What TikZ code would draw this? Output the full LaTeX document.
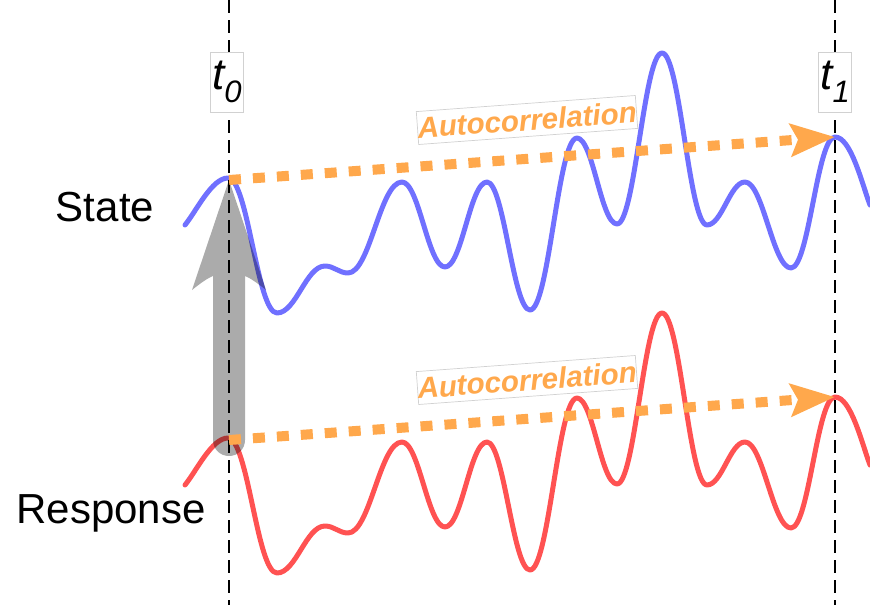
\documentclass[tikz,border=0pt]{standalone}
\usepackage{fontspec}
\setmainfont{Liberation Sans}
\usetikzlibrary{arrows.meta,calc}
\definecolor{acorange}{RGB}{255,168,76}
\newcommand\wavepath{(185,225) .. controls (197,210) and (212,178) .. (228,178)
 .. controls (248,178) and (257,313) .. (277,313)
 .. controls (296,313) and (306,266) .. (325,266)
 .. controls (334,266) and (339,273) .. (348,273)
 .. controls (370,273) and (380,182) .. (402,182)
 .. controls (419,182) and (428,267) .. (445,267)
 .. controls (462,267) and (470,182) .. (487,182)
 .. controls (504,182) and (513,310) .. (530,310)
 .. controls (549,310) and (558,138) .. (577,138)
 .. controls (593,138) and (601,224) .. (617,224)
 .. controls (635,224) and (644,53) .. (662,53)
 .. controls (680,53) and (689,225) .. (707,225)
 .. controls (722,225) and (730,182) .. (745,182)
 .. controls (763,182) and (773,268) .. (791,268)
 .. controls (809,268) and (817,137) .. (835,137)
 .. controls (851,137) and (862,184) .. (870,205)}
\begin{document}
\begin{tikzpicture}[x=1pt,y=-1pt,
  wave/.style={line width=5pt, line cap=round, line join=round},
  stateline/.style={wave, draw=blue, draw opacity=0.56},
  respline/.style={wave, draw=red, draw opacity=0.68},
  timeline/.style={line width=2.6pt, dash pattern=on 13pt off 7pt},
  tlabel/.style={draw=black!18, line width=0.7pt, fill=white, minimum width=33pt, minimum height=60pt, inner sep=0pt, font=\fontsize{44}{44}\selectfont\itshape},
  acbox/.style={draw=black!18, line width=0.7pt, fill=white, minimum width=218pt, minimum height=33pt, inner sep=0pt, rotate=4.2, text=acorange, font=\fontsize{29.5}{29.5}\selectfont\bfseries\itshape},
  autoarrow/.style={draw=acorange, line width=10pt, dash pattern=on 12pt off 12pt, -{Stealth[length=44pt,width=32pt,inset=7pt]}},
  grayarrow/.style={fill=black, fill opacity=0.33},
  sidelabel/.style={anchor=base, inner sep=0pt, font=\fontsize{42}{42}\selectfont}
]
\useasboundingbox (0,0) rectangle (870,605);

% named points
\coordinate (b0) at (229,180);
\coordinate (b1) at (835,137);
\coordinate (r0) at (229,440);
\coordinate (r1) at (835,397);
\coordinate (t0top) at (229,0);
\coordinate (t0bot) at (229,605);
\coordinate (t1top) at (835,0);
\coordinate (t1bot) at (835,605);

% autocorrelation labels
\node[acbox] (A1) at (527,120) {Autocorrelation};
\node[acbox] (A2) at (527,380) {Autocorrelation};

% signals
\draw[stateline] \wavepath;
\draw[respline, shift={(0,260)}] \wavepath;

% gray causal arrow
\fill[grayarrow] (b0) -- ($(b0)+(37,110)$)
  .. controls ($(b0)+(27,102)$) and ($(b0)+(21,98)$) .. ($(b0)+(16,96)$)
  -- ($(r0)+(16,0)$)
  .. controls ($(r0)+(16,9)$) and ($(r0)+(9,16)$) .. ($(r0)+(0,16)$)
  .. controls ($(r0)+(-9,16)$) and ($(r0)+(-16,9)$) .. ($(r0)+(-16,0)$)
  -- ($(b0)+(-16,96)$)
  .. controls ($(b0)+(-21,98)$) and ($(b0)+(-27,102)$) .. ($(b0)+(-37,110)$)
  -- cycle;

% time lines
\draw[timeline] (t0top) -- (t0bot);
\draw[timeline] (t1top) -- (t1bot);

% time labels
\node[tlabel] (L0) at (227,82) {t\raisebox{-13pt}{\fontsize{31}{31}\selectfont 0}};
\node[tlabel] (L1) at (835,82) {t\raisebox{-13pt}{\fontsize{31}{31}\selectfont 1}};

% autocorrelation arrows
\draw[autoarrow] (b0) -- (b1);
\draw[autoarrow] (r0) -- (r1);

% side labels
\node[sidelabel] (S) at (105,221) {State};
\node[sidelabel] (R) at (111,523) {Response};
\end{tikzpicture}
\end{document}
